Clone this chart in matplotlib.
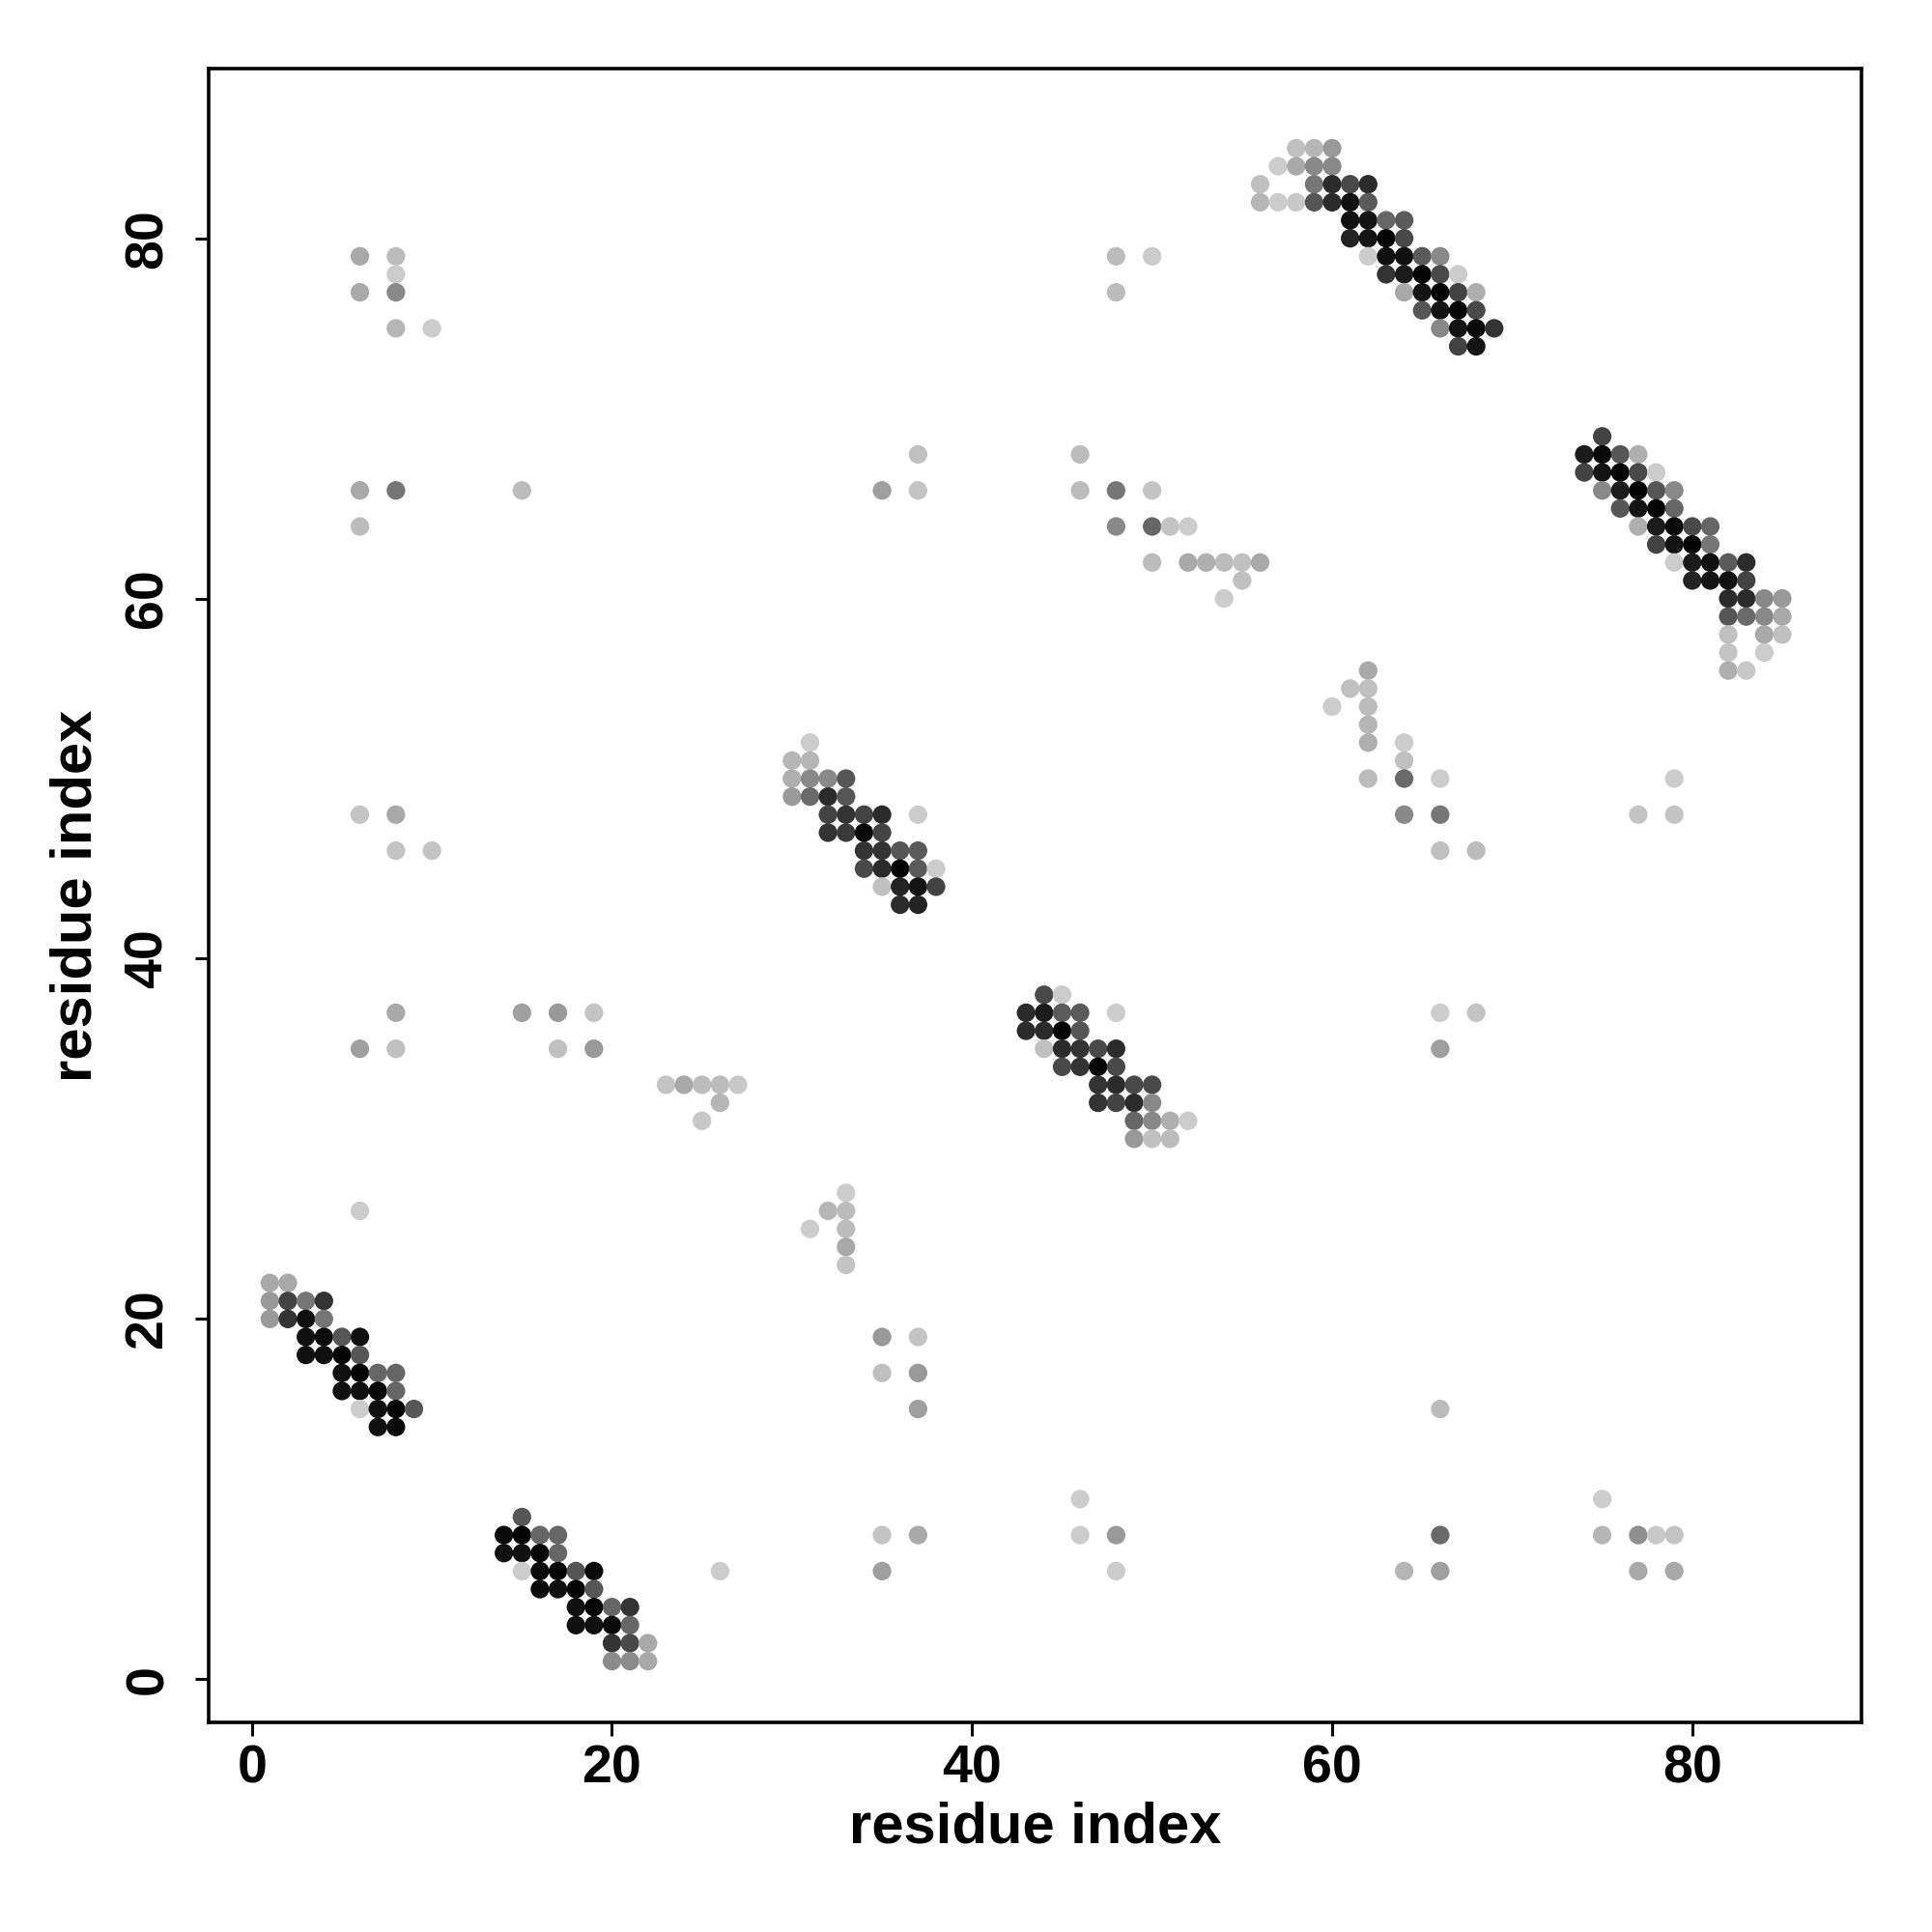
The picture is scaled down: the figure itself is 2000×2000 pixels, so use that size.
import numpy as np
import matplotlib
matplotlib.use("Agg")
import matplotlib.pyplot as plt

# residue pairs (x = residue i, y = residue j) and contact probability p
res_i = [
    # block near (1..9, 14..22)
    6, 1, 2, 1, 2, 3, 4, 1, 2, 3, 4, 3, 4, 5, 6, 3, 4, 5, 6, 5, 6, 7, 8, 5, 6, 7, 8,
    6, 7, 8, 9, 7, 8,
    # block near (14..22, 1..9)
    15, 14, 15, 16, 17, 14, 15, 16, 17, 15, 16, 17, 18, 19, 26, 16, 17, 18, 19,
    18, 19, 20, 21, 18, 19, 20, 21, 20, 21, 22, 20, 21, 22,
    # scattered, lower left
    8, 6, 8, 15, 17, 19, 17, 19, 23, 24, 25, 26, 27, 26, 25,
    # scattered, upper left
    6, 8, 8, 6, 8, 8, 10, 6, 8, 15, 6, 6, 8, 8, 10,
    # block near (30..38, 43..52)
    31, 30, 31, 30, 31, 32, 33, 30, 31, 32, 33, 32, 33, 34, 35, 37, 32, 33, 34, 35,
    34, 35, 36, 37, 34, 35, 36, 37, 38, 35, 36, 37, 38, 36, 37,
    # scattered near x = 31..37, low y
    33, 32, 33, 31, 33, 33, 33, 35, 37, 35, 37, 37, 35, 37, 35,
    # scattered, upper middle
    48, 50, 48, 37, 35, 37, 46, 46, 48, 50, 48, 50, 51, 52, 50, 52, 53, 54, 55, 56, 55, 54,
    # block near (56..69, 74..85)
    58, 59, 60, 57, 58, 59, 60, 56, 59, 60, 61, 62, 56, 57, 58, 59, 60, 61, 62,
    61, 62, 63, 64, 61, 62, 63, 64, 62, 63, 64, 65, 66, 63, 64, 65, 66, 67,
    64, 65, 66, 67, 68, 65, 66, 67, 68, 66, 67, 68, 69, 67, 68,
    # scattered, right middle
    62, 61, 62, 60, 62, 62, 62, 64, 64, 62, 64, 66, 79, 64, 66, 77, 79, 66, 68,
    # block near (74..85, 56..69)
    75, 74, 75, 76, 77, 74, 75, 76, 77, 78, 75, 76, 77, 78, 79, 76, 77, 78, 79,
    77, 78, 79, 80, 81, 78, 79, 80, 81, 79, 80, 81, 82, 83, 80, 81, 82, 83,
    82, 83, 84, 85, 82, 83, 84, 85, 82, 84, 85, 82, 84, 82, 83,
    # block near (43..52, 30..38)
    44, 45, 43, 44, 45, 46, 48, 43, 44, 45, 46, 44, 45, 46, 47, 48, 45, 46, 47, 48,
    47, 48, 49, 50, 47, 48, 49, 50, 49, 50, 51, 52, 49, 50, 51,
    # scattered, lower right
    66, 68, 66, 66, 46, 46, 48, 48, 64, 66, 66, 75, 75, 77, 78, 79, 77, 79,
]

res_j = [
    26, 22, 22, 21, 21, 21, 21, 20, 20, 20, 20, 19, 19, 19, 19, 18, 18, 18, 18,
    17, 17, 17, 17, 16, 16, 16, 16, 15, 15, 15, 15, 14, 14,
    9, 8, 8, 8, 8, 7, 7, 7, 7, 6, 6, 6, 6, 6, 6, 5, 5, 5, 5,
    4, 4, 4, 4, 3, 3, 3, 3, 2, 2, 2, 1, 1, 1,
    37, 35, 35, 37, 37, 37, 35, 35, 33, 33, 33, 33, 33, 32, 31,
    79, 79, 78, 77, 77, 75, 75, 66, 66, 66, 64, 48, 48, 46, 46,
    52, 51, 51, 50, 50, 50, 50, 49, 49, 49, 49, 48, 48, 48, 48, 48, 47, 47, 47, 47,
    46, 46, 46, 46, 45, 45, 45, 45, 45, 44, 44, 44, 44, 43, 43,
    27, 26, 26, 25, 25, 24, 23, 19, 19, 17, 17, 15, 8, 8, 6,
    79, 79, 77, 68, 66, 66, 68, 66, 66, 66, 64, 64, 64, 64, 62, 62, 62, 62, 62, 62, 61, 60,
    85, 85, 85, 84, 84, 84, 84, 83, 83, 83, 83, 83, 82, 82, 82, 82, 82, 82, 82,
    81, 81, 81, 81, 80, 80, 80, 80, 79, 79, 79, 79, 79, 78, 78, 78, 78, 78,
    77, 77, 77, 77, 77, 76, 76, 76, 76, 75, 75, 75, 75, 74, 74,
    56, 55, 55, 54, 54, 53, 52, 52, 51, 50, 50, 50, 50, 48, 48, 48, 48, 46, 46,
    69, 68, 68, 68, 68, 67, 67, 67, 67, 67, 66, 66, 66, 66, 66, 65, 65, 65, 65,
    64, 64, 64, 64, 64, 63, 63, 63, 63, 62, 62, 62, 62, 62, 61, 61, 61, 61,
    60, 60, 60, 60, 59, 59, 59, 59, 58, 58, 58, 57, 57, 56, 56,
    38, 38, 37, 37, 37, 37, 37, 36, 36, 36, 36, 35, 35, 35, 35, 35, 34, 34, 34, 34,
    33, 33, 33, 33, 32, 32, 32, 32, 31, 31, 31, 31, 30, 30, 30,
    37, 37, 35, 15, 10, 8, 8, 6, 6, 8, 6, 10, 8, 8, 8, 8, 6, 6,
]

prob = [
    0.00, 0.17, 0.17, 0.25, 0.67, 0.42, 0.75, 0.25, 0.75, 0.92, 0.42,
    0.92, 0.95, 0.58, 0.92, 0.92, 0.92, 0.98, 0.58,
    0.92, 0.98, 0.50, 0.50, 0.92, 0.92, 0.98, 0.50, 0.00, 0.92, 0.98, 0.58, 0.92, 0.95,
    0.58, 0.95, 0.98, 0.50, 0.50, 0.92, 0.92, 0.98, 0.50,
    0.00, 0.95, 0.98, 0.58, 0.95, 0.00, 0.95, 0.92, 0.98, 0.58,
    0.92, 0.98, 0.50, 0.75, 0.92, 0.92, 0.95, 0.50, 0.75, 0.64, 0.17, 0.32, 0.32, 0.17,
    0.17, 0.22, 0.06, 0.22, 0.25, 0.04, 0.06, 0.25, 0.04, 0.17, 0.08, 0.08, 0.02, 0.11, 0.02,
    0.17, 0.08, 0.00, 0.17, 0.33, 0.11, 0.00, 0.17, 0.42, 0.08, 0.08, 0.04, 0.17, 0.04, 0.04,
    0.00, 0.11, 0.11, 0.14, 0.33, 0.33, 0.58, 0.25, 0.48, 0.79, 0.58,
    0.67, 0.75, 0.67, 0.79, 0.00, 0.75, 0.72, 0.95, 0.67,
    0.75, 0.75, 0.58, 0.56, 0.64, 0.79, 0.98, 0.56, 0.00, 0.06, 0.83, 0.90, 0.67, 0.79, 0.83,
    0.00, 0.11, 0.08, 0.00, 0.08, 0.17, 0.04, 0.25, 0.04, 0.06, 0.25, 0.22, 0.04, 0.17, 0.22,
    0.08, 0.00, 0.08, 0.06, 0.22, 0.04, 0.08, 0.08, 0.42, 0.04, 0.33, 0.50, 0.04, 0.00,
    0.08, 0.17, 0.14, 0.08, 0.06, 0.17, 0.06, 0.00,
    0.06, 0.11, 0.25, 0.00, 0.17, 0.33, 0.33, 0.06, 0.42, 0.79, 0.64, 0.79,
    0.11, 0.00, 0.02, 0.58, 0.79, 0.92, 0.56,
    0.92, 0.90, 0.50, 0.56, 0.83, 0.90, 0.98, 0.64, 0.00, 0.92, 0.92, 0.56, 0.33,
    0.75, 0.87, 0.98, 0.64, 0.00,
    0.17, 0.90, 0.98, 0.67, 0.14, 0.58, 0.90, 0.98, 0.64, 0.33, 0.90, 0.95, 0.75, 0.67, 0.90,
    0.17, 0.06, 0.06, 0.00, 0.08, 0.11, 0.14, 0.00, 0.06, 0.08, 0.48, 0.00, 0.00,
    0.33, 0.42, 0.04, 0.04, 0.06, 0.08,
    0.67, 0.87, 0.95, 0.58, 0.14, 0.67, 0.90, 0.98, 0.64, 0.00, 0.33, 0.87, 0.98, 0.58, 0.33,
    0.58, 0.90, 0.98, 0.50,
    0.14, 0.87, 0.95, 0.64, 0.50, 0.67, 0.90, 0.98, 0.42, 0.00, 0.87, 0.92, 0.56, 0.79,
    0.83, 0.90, 0.92, 0.67,
    0.79, 0.79, 0.33, 0.25, 0.58, 0.48, 0.33, 0.17, 0.06, 0.17, 0.06, 0.04, 0.00, 0.14, 0.02,
    0.64, 0.00, 0.79, 0.87, 0.56, 0.56, 0.00, 0.79, 0.79, 0.98, 0.58,
    0.06, 0.79, 0.75, 0.64, 0.79, 0.64, 0.75, 0.98, 0.64,
    0.75, 0.79, 0.64, 0.64, 0.75, 0.67, 0.79, 0.33, 0.50, 0.33, 0.14, 0.00, 0.25, 0.06, 0.08,
    0.00, 0.04, 0.22, 0.08, 0.00, 0.00, 0.25, 0.00, 0.11, 0.48, 0.22,
    0.00, 0.11, 0.30, 0.02, 0.04, 0.17, 0.17,
]

x_ticks = [0, 20, 40, 60, 80]
y_ticks = [0, 20, 40, 60, 80]
x_label = "residue index"
y_label = "residue index"

assert len(res_i) == len(res_j) == len(prob), (len(res_i), len(res_j), len(prob))

plt.rcParams['font.family'] = ['Liberation Sans', 'DejaVu Sans']
plt.rcParams['font.weight'] = 'bold'

fig = plt.figure(figsize=(10, 10), dpi=200)
ax = fig.add_axes([0.108, 0.1085, 0.8555, 0.8558])

p = np.asarray(prob)
shade = 0.8 * (1.0 - p)
colors = np.column_stack([shade, shade, shade])
ax.scatter(res_i, res_j, s=48, c=colors, linewidths=0, zorder=3)

ax.set_xlim(-2.4, 89.4)
ax.set_ylim(-2.4, 89.4)
ax.set_xticks(x_ticks)
ax.set_yticks(y_ticks)
ax.set_xticklabels([str(t) for t in x_ticks], fontsize=20, fontweight='bold')
ax.set_yticklabels([str(t) for t in y_ticks], fontsize=20, fontweight='bold',
                   rotation=90, va='center')
ax.tick_params(axis='x', length=5, width=1.1, pad=3)
ax.tick_params(axis='y', length=5, width=1.1, pad=8)
for sp in ax.spines.values():
    sp.set_linewidth(1.3)

fig.text(0.5357, 0.054, x_label, ha='center', va='center', fontsize=21.5, fontweight='bold')
fig.text(0.0395, 0.5365, y_label, ha='center', va='center', rotation=90,
         fontsize=21.5, fontweight='bold')

fig.savefig("out.png", dpi=200, facecolor='white')
